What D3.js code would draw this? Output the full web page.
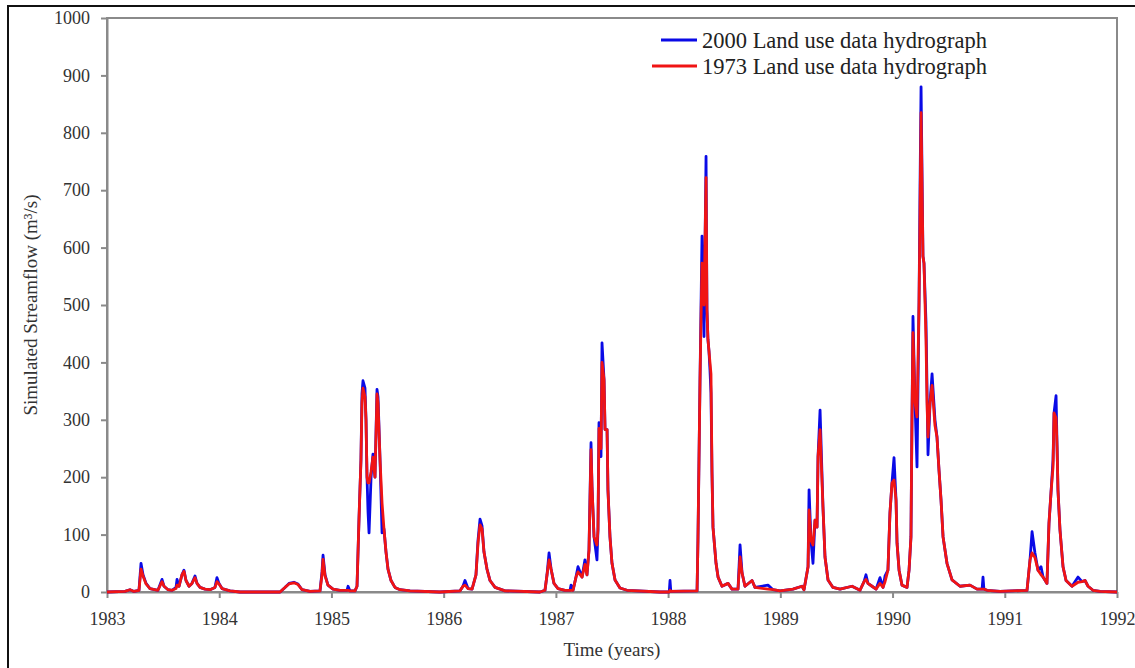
<!DOCTYPE html>
<html>
<head>
<meta charset="utf-8">
<script src="https://cdn.jsdelivr.net/npm/d3@7"></script>
<style>
  body { margin: 0; background: #fff; }
  svg { display: block; font-family: "Liberation Serif", "Times New Roman", serif; }
  .axis path, .axis line { stroke: #8a8a8a; stroke-width: 2; }
  .axis text { fill: #333; font-size: 18px; font-family: "Liberation Serif", serif; }
</style>
</head>
<body>
<svg id="chart" width="1135" height="668"></svg>
<script>
// time in decimal years, simulated streamflow in m3/s
var years = [
  1983.000, 1983.160, 1983.205, 1983.241, 1983.285, 1983.303, 1983.321, 1983.348, 1983.383, 1983.454,
  1983.490, 1983.508, 1983.544, 1983.579, 1983.615, 1983.624, 1983.642, 1983.668, 1983.686, 1983.704,
  1983.731, 1983.757, 1983.784, 1983.802, 1983.829, 1983.873, 1983.918, 1983.962, 1983.980, 1983.998,
  1984.025, 1984.096, 1984.185, 1984.542, 1984.586, 1984.622, 1984.666, 1984.702, 1984.738, 1984.809,
  1984.898, 1984.916, 1984.925, 1984.943, 1984.969, 1985.014, 1985.076, 1985.139, 1985.148, 1985.165,
  1985.210, 1985.228, 1985.246, 1985.263, 1985.272, 1985.281, 1985.299, 1985.308, 1985.317, 1985.326,
  1985.335, 1985.353, 1985.370, 1985.388, 1985.406, 1985.415, 1985.433, 1985.451, 1985.468, 1985.486,
  1985.504, 1985.531, 1985.566, 1985.611, 1985.700, 1985.967, 1986.146, 1986.172, 1986.190, 1986.217,
  1986.253, 1986.288, 1986.306, 1986.324, 1986.342, 1986.359, 1986.386, 1986.413, 1986.458, 1986.547,
  1986.858, 1986.903, 1986.921, 1986.939, 1986.957, 1986.983, 1987.019, 1987.081, 1987.126, 1987.135,
  1987.153, 1987.179, 1987.197, 1987.233, 1987.259, 1987.277, 1987.295, 1987.313, 1987.322, 1987.340,
  1987.366, 1987.375, 1987.384, 1987.402, 1987.411, 1987.429, 1987.438, 1987.456, 1987.464, 1987.482,
  1987.500, 1987.527, 1987.571, 1987.634, 1987.928, 1988.010, 1988.017, 1988.024, 1988.258, 1988.266,
  1988.284, 1988.302, 1988.311, 1988.320, 1988.338, 1988.346, 1988.355, 1988.364, 1988.373, 1988.382,
  1988.391, 1988.400, 1988.427, 1988.445, 1988.480, 1988.534, 1988.569, 1988.623, 1988.641, 1988.659,
  1988.685, 1988.748, 1988.774, 1988.890, 1988.935, 1988.997, 1989.113, 1989.193, 1989.211, 1989.247,
  1989.256, 1989.273, 1989.291, 1989.309, 1989.327, 1989.336, 1989.354, 1989.380, 1989.398, 1989.425,
  1989.469, 1989.532, 1989.639, 1989.710, 1989.746, 1989.763, 1989.781, 1989.817, 1989.853, 1989.888,
  1989.915, 1989.933, 1989.959, 1989.977, 1989.995, 1990.013, 1990.031, 1990.040, 1990.058, 1990.084,
  1990.129, 1990.147, 1990.164, 1990.173, 1990.182, 1990.200, 1990.218, 1990.236, 1990.245, 1990.254,
  1990.271, 1990.280, 1990.298, 1990.307, 1990.316, 1990.334, 1990.352, 1990.378, 1990.396, 1990.414,
  1990.432, 1990.450, 1990.485, 1990.530, 1990.601, 1990.690, 1990.753, 1990.798, 1990.806, 1990.814,
  1990.842, 1990.958, 1991.198, 1991.225, 1991.243, 1991.269, 1991.296, 1991.323, 1991.341, 1991.376,
  1991.394, 1991.412, 1991.430, 1991.439, 1991.457, 1991.466, 1991.474, 1991.492, 1991.519, 1991.546,
  1991.599, 1991.653, 1991.688, 1991.715, 1991.742, 1991.786, 1991.849, 1992.000
];

// 2000 land use (blue)
var flow2000 = [
  0, 1, 4, 1, 3, 50, 30, 15, 6, 3,
  22, 10, 4, 3, 8, 22, 10, 30, 38, 20,
  10, 15, 28, 15, 8, 5, 4, 8, 25, 15,
  6, 2, 0, 0, 8, 15, 17, 14, 4, 1,
  2, 35, 64, 30, 12, 5, 3, 3, 10, 2,
  2, 10, 130, 230, 345, 368, 355, 300, 200, 140,
  103, 200, 240, 200, 353, 340, 230, 103, 110, 70,
  40, 20, 8, 4, 2, 0, 2, 10, 20, 6,
  5, 30, 90, 127, 115, 70, 40, 20, 8, 2,
  0, 3, 30, 68, 40, 15, 6, 3, 3, 12,
  3, 26, 44, 26, 56, 30, 73, 260, 183, 96,
  56, 108, 295, 236, 434, 370, 283, 283, 178, 96,
  50, 21, 7, 3, 0, 0, 20, 1, 2, 90,
  365, 620, 545, 445, 759, 492, 440, 420, 387, 347,
  208, 113, 50, 26, 10, 15, 5, 5, 82, 33,
  10, 20, 8, 12, 4, 2, 5, 10, 4, 44,
  178, 90, 50, 125, 113, 236, 317, 148, 61, 21,
  8, 5, 10, 3, 18, 30, 15, 10, 5, 25,
  8, 28, 38, 138, 190, 234, 160, 85, 38, 12,
  8, 38, 96, 300, 480, 330, 218, 504, 707, 880,
  585, 573, 470, 358, 239, 330, 380, 300, 270, 212,
  160, 96, 50, 21, 10, 12, 5, 5, 26, 5,
  3, 1, 3, 56, 105, 68, 38, 44, 26, 15,
  120, 173, 230, 312, 342, 253, 178, 108, 44, 20,
  10, 26, 18, 20, 10, 3, 1, 0
];

// 1973 land use (red)
var flow1973 = [
  0, 1, 4, 1, 3, 40, 28, 14, 6, 3,
  18, 10, 4, 3, 6, 12, 10, 30, 36, 20,
  10, 15, 25, 15, 8, 5, 4, 8, 18, 14,
  6, 2, 0, 0, 8, 14, 16, 13, 4, 1,
  2, 30, 57, 28, 12, 5, 3, 3, 3, 2,
  2, 10, 130, 230, 330, 355, 340, 300, 200, 190,
  190, 210, 235, 200, 345, 330, 230, 155, 110, 70,
  40, 20, 8, 4, 2, 0, 2, 10, 12, 6,
  5, 30, 85, 117, 110, 70, 40, 20, 8, 2,
  0, 3, 30, 56, 40, 15, 6, 3, 3, 3,
  3, 26, 35, 26, 48, 30, 73, 248, 183, 96,
  82, 108, 285, 250, 400, 370, 283, 283, 178, 96,
  50, 21, 7, 3, 0, 0, 3, 1, 2, 90,
  365, 573, 545, 500, 722, 492, 440, 420, 400, 380,
  208, 113, 50, 26, 10, 15, 5, 5, 61, 33,
  10, 20, 8, 5, 4, 2, 5, 10, 4, 44,
  143, 90, 82, 125, 113, 236, 283, 148, 61, 21,
  8, 5, 10, 3, 18, 22, 15, 10, 5, 15,
  8, 18, 38, 138, 190, 195, 160, 85, 38, 12,
  8, 38, 96, 300, 452, 330, 305, 504, 660, 835,
  585, 573, 440, 330, 270, 330, 360, 290, 270, 212,
  160, 96, 50, 21, 10, 12, 5, 5, 5, 5,
  3, 1, 3, 56, 68, 60, 38, 30, 26, 15,
  120, 173, 218, 312, 303, 253, 178, 108, 44, 20,
  10, 17, 18, 20, 10, 3, 1, 0
];

var xTicks = [1983, 1984, 1985, 1986, 1987, 1988, 1989, 1990, 1991, 1992];
var yTicks = [0, 100, 200, 300, 400, 500, 600, 700, 800, 900, 1000];

var seriesNames = ["2000 Land use data hydrograph", "1973 Land use data hydrograph"];
var seriesColors = ["#0a0ae6", "#f01414"];

var svg = d3.select("#chart");
var plotLeft = 107, plotRight = 1117, plotTop = 18, plotBottom = 592;

// outer frame (only top and left edges fall inside the picture)
svg.append("rect")
  .attr("x", 8).attr("y", 6)
  .attr("width", 1140).attr("height", 700)
  .attr("fill", "white").attr("stroke", "#111").attr("stroke-width", 2);

var x = d3.scaleLinear().domain([1983, 1992]).range([plotLeft, plotRight]);
var y = d3.scaleLinear().domain([0, 1000]).range([plotBottom, plotTop]);

// plot box
svg.append("rect")
  .attr("x", plotLeft).attr("y", plotTop)
  .attr("width", plotRight - plotLeft).attr("height", plotBottom - plotTop)
  .attr("fill", "white").attr("stroke", "#8a8a8a").attr("stroke-width", 2);

svg.append("g").attr("class", "axis")
  .attr("transform", "translate(0," + plotBottom + ")")
  .call(d3.axisBottom(x).tickValues(xTicks).tickFormat(d3.format("d"))
    .tickSize(6).tickSizeOuter(0).tickPadding(14));

svg.append("g").attr("class", "axis")
  .attr("transform", "translate(" + plotLeft + ",0)")
  .call(d3.axisLeft(y).tickValues(yTicks).tickFormat(d3.format("d"))
    .tickSize(6).tickSizeOuter(0).tickPadding(11));

// hydrographs: blue first, red drawn over it
function line(vals) {
  return d3.line()
    .x(function(d, i) { return x(years[i]); })
    .y(function(d) { return y(d); })(vals);
}

[flow2000, flow1973].forEach(function(vals, k) {
  svg.append("path")
    .attr("d", line(vals))
    .attr("fill", "none")
    .attr("stroke", seriesColors[k])
    .attr("stroke-width", 2.8)
    .attr("stroke-linejoin", "round");
});

// legend
var legX = [661, 652];
var legY = [40, 66];
seriesNames.forEach(function(name, k) {
  svg.append("line")
    .attr("x1", legX[k]).attr("x2", 697)
    .attr("y1", legY[k]).attr("y2", legY[k])
    .attr("stroke", seriesColors[k]).attr("stroke-width", 3);
  svg.append("text")
    .attr("x", 702).attr("y", legY[k])
    .attr("dy", "0.35em")
    .attr("font-size", 22.5).attr("fill", "#222")
    .text(name);
});

// axis titles
svg.append("text")
  .attr("x", (plotLeft + plotRight) / 2).attr("y", 656)
  .attr("text-anchor", "middle")
  .attr("font-size", 19).attr("fill", "#333")
  .text("Time (years)");

svg.append("text")
  .attr("transform", "translate(37," + ((plotTop + plotBottom) / 2) + ") rotate(-90)")
  .attr("text-anchor", "middle")
  .attr("font-size", 19).attr("fill", "#333")
  .text("Simulated Streamflow (m³/s)");
</script>
</body>
</html>
